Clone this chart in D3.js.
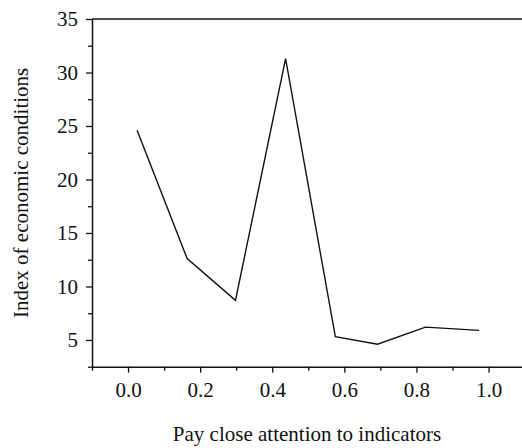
<!DOCTYPE html>
<html>
<head>
<meta charset="utf-8">
<title>Index of economic conditions</title>
<script src="https://d3js.org/d3.v7.min.js"></script>
<style>
  body { margin: 0; background: #fff; }
  svg { display: block; }
  text { font-family: 'Liberation Serif', 'Times New Roman', serif; fill: #111; }
</style>
</head>
<body>
<div id="chart"></div>
<script>
// values
var attention = [0.025, 0.164, 0.298, 0.437, 0.575, 0.692, 0.825, 0.974];
var econIndex = [24.6, 12.6, 8.7, 31.3, 5.3, 4.6, 6.2, 5.9];
var xTicks = [0.0, 0.2, 0.4, 0.6, 0.8, 1.0];
var xMinor = [-0.1, 0.1, 0.3, 0.5, 0.7, 0.9, 1.1];
var yTicks = [5, 10, 15, 20, 25, 30, 35];
var yMinor = [2.5, 7.5, 12.5, 17.5, 22.5, 27.5, 32.5];

var width = 522, height = 448;
var plotLeft = 92, plotTop = 19, plotBottom = 366.7;

var svg = d3.select("#chart").append("svg")
  .attr("width", width)
  .attr("height", height);

var x = d3.scaleLinear().domain([-0.1, 1.1]).range([plotLeft, plotLeft + 1.2 * 360.5]);
var y = d3.scaleLinear().domain([2.5, 35]).range([plotBottom, plotTop]);

// top frame line
svg.append("line")
  .attr("x1", plotLeft).attr("x2", width)
  .attr("y1", plotTop).attr("y2", plotTop)
  .attr("stroke", "#111").attr("stroke-width", 1.5);

// minor ticks first, then major axes with labels
svg.append("g")
  .attr("transform", "translate(0," + plotBottom + ")")
  .call(d3.axisBottom(x).tickValues(xMinor).tickSize(4).tickFormat(""))
  .call(function(g){ g.select(".domain").remove(); });

svg.append("g")
  .attr("transform", "translate(" + plotLeft + ",0)")
  .call(d3.axisLeft(y).tickValues(yMinor).tickSize(4).tickFormat(""))
  .call(function(g){ g.select(".domain").remove(); });

svg.append("g")
  .attr("transform", "translate(0," + plotBottom + ")")
  .call(d3.axisBottom(x).tickValues(xTicks).tickSize(6).tickSizeOuter(0).tickPadding(9).tickFormat(d3.format(".1f")));

svg.append("g")
  .attr("transform", "translate(" + plotLeft + ",0)")
  .call(d3.axisLeft(y).tickValues(yTicks).tickSize(6).tickSizeOuter(0).tickPadding(8));

svg.selectAll(".tick line").attr("stroke", "#111").attr("stroke-width", 1.3);
svg.selectAll(".domain").attr("stroke", "#111").attr("stroke-width", 1.5);
svg.selectAll(".tick text")
  .style("font-family", "'Liberation Serif', serif")
  .style("font-size", "21px")
  .attr("fill", "#111");

// the series
var pts = attention.map(function(d, i){ return [d, econIndex[i]]; });
svg.append("path")
  .datum(pts)
  .attr("fill", "none")
  .attr("stroke", "#111")
  .attr("stroke-width", 1.4)
  .attr("d", d3.line().x(function(d){ return x(d[0]); }).y(function(d){ return y(d[1]); }));

// axis titles
svg.append("text")
  .attr("x", (plotLeft + width) / 2)
  .attr("y", 441)
  .attr("text-anchor", "middle")
  .style("font-family", "'Liberation Serif', serif")
  .style("font-size", "21px")
  .text("Pay close attention to indicators");

svg.append("text")
  .attr("transform", "translate(28," + (plotTop + plotBottom) / 2 + ") rotate(-90)")
  .attr("text-anchor", "middle")
  .style("font-family", "'Liberation Serif', serif")
  .style("font-size", "21px")
  .text("Index of economic conditions");
</script>
</body>
</html>
